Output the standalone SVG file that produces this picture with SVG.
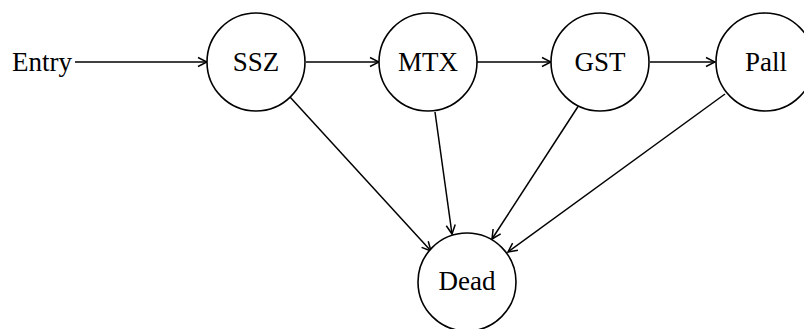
<svg xmlns="http://www.w3.org/2000/svg" width="804" height="329" viewBox="0 0 804 329">
  <style>
    .node circle { fill: #ffffff; stroke: #000000; stroke-width: 1.6; }
    .node text, .label { font-family: "Liberation Serif", "Times New Roman", serif; font-size: 27px; fill: #000000; text-anchor: middle; }
    .edge { stroke: #000000; stroke-width: 1.5; fill: none; marker-end: url(#arrow); }
  </style>
  <defs>
    <marker id="arrow" markerUnits="userSpaceOnUse" markerWidth="12" markerHeight="12" viewBox="0 0 12 12" refX="11" refY="6" orient="auto">
      <path d="M2,1.5 L11,6 L2,10.5" fill="none" stroke="#000000" stroke-width="1.5"/>
    </marker>
  </defs>
  <rect width="804" height="329" fill="#ffffff"/>

  <text class="label" x="42" y="71">Entry</text>

  <g id="connectors">
    <line class="edge" x1="75" y1="62" x2="207" y2="62"/>
    <line class="edge" x1="306" y1="62" x2="379" y2="62"/>
    <line class="edge" x1="477" y1="62" x2="551" y2="62"/>
    <line class="edge" x1="650" y1="62" x2="715" y2="62"/>
    <line class="edge" x1="290" y1="97" x2="431" y2="251"/>
    <line class="edge" x1="435" y1="112" x2="452" y2="234"/>
    <line class="edge" x1="579" y1="105" x2="492" y2="239"/>
    <line class="edge" x1="725" y1="94" x2="508" y2="252"/>
  </g>

  <g id="node-ssz" class="node">
    <circle cx="256" cy="62" r="49"/>
    <text x="256" y="71">SSZ</text>
  </g>
  <g id="node-mtx" class="node">
    <circle cx="428" cy="62" r="49"/>
    <text x="428" y="71">MTX</text>
  </g>
  <g id="node-gst" class="node">
    <circle cx="600" cy="62" r="49"/>
    <text x="600" y="71">GST</text>
  </g>
  <g id="node-pall" class="node">
    <circle cx="765" cy="62" r="49"/>
    <text x="766" y="71">Pall</text>
  </g>
  <g id="node-dead" class="node">
    <circle cx="467" cy="282" r="49"/>
    <text x="467" y="290">Dead</text>
  </g>
</svg>
